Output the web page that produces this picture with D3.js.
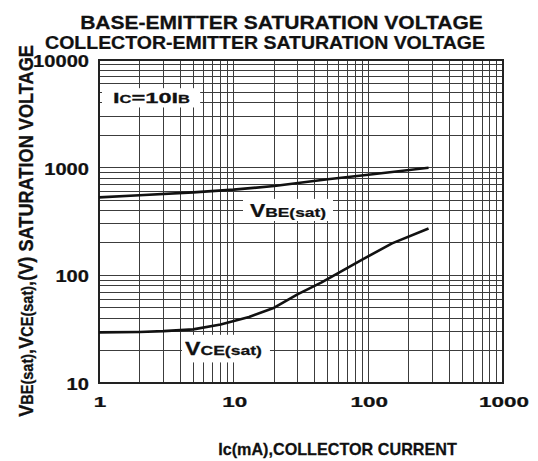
<!DOCTYPE html>
<html><head><meta charset="utf-8">
<script src="https://cdn.jsdelivr.net/npm/d3@7"></script>
<style>html,body{margin:0;padding:0;background:#fff;} svg{display:block;}</style>
</head><body>
<svg id="chart" width="538" height="461"></svg>
<script>
// ---- data ----
const titleLines = ["BASE-EMITTER SATURATION VOLTAGE", "COLLECTOR-EMITTER SATURATION VOLTAGE"];
const xTickLabels = [1, 10, 100, 1000];
const yTickLabels = [10, 100, 1000, 10000];
const xDomain = [1, 1000];
const yDomain = [10, 10000];
const vbeCurrent = [1, 2, 5, 10, 20, 50, 100, 280];
const vbeVoltage = [530, 555, 590, 625, 675, 780, 860, 1000];
const vceCurrent = [1, 2, 3, 5, 8, 13, 20, 30, 45, 90, 150, 280];
const vceVoltage = [29.5, 29.8, 30.3, 31.5, 35, 41, 50, 67, 86, 140, 198, 272];
const xAxisTitle = "Ic(mA),COLLECTOR CURRENT";

// ---- layout ----
const plot = {left: 99, right: 503, top: 60, bottom: 383};
const FONT = '"Liberation Sans", Arial, Helvetica, sans-serif';
const svg = d3.select("#chart");
const x = d3.scaleLog().domain(xDomain).range([plot.left, plot.right]);
const y = d3.scaleLog().domain(yDomain).range([plot.bottom, plot.top]);

// grid
const grid = svg.append("g").attr("stroke", "#3c3c3c").attr("stroke-width", 1)
  .attr("shape-rendering", "crispEdges");
grid.selectAll("line.v").data(x.ticks()).join("line").attr("class", "v")
  .attr("x1", d => x(d)).attr("x2", d => x(d)).attr("y1", plot.top).attr("y2", plot.bottom);
grid.selectAll("line.h").data(y.ticks()).join("line").attr("class", "h")
  .attr("y1", d => y(d)).attr("y2", d => y(d)).attr("x1", plot.left).attr("x2", plot.right);
svg.append("rect").attr("x", plot.left).attr("y", plot.top)
  .attr("width", plot.right - plot.left).attr("height", plot.bottom - plot.top)
  .attr("fill", "none").attr("stroke", "#222").attr("stroke-width", 1.2).attr("shape-rendering", "crispEdges");

// curves
const line = d3.line().x(d => x(d[0])).y(d => y(d[1]));
svg.append("path").datum(d3.zip(vbeCurrent, vbeVoltage)).attr("d", line)
  .attr("fill", "none").attr("stroke", "#111").attr("stroke-width", 2.6).attr("stroke-linejoin", "round");
svg.append("path").datum(d3.zip(vceCurrent, vceVoltage)).attr("d", line)
  .attr("fill", "none").attr("stroke", "#111").attr("stroke-width", 2.6).attr("stroke-linejoin", "round");

// ---- text helper ----
function addText(parts, o) {
  const t = svg.append("text").attr("font-family", FONT).attr("font-weight", "bold")
    .attr("fill", "#111").attr("stroke", "#111").attr("stroke-width", 0.25)
    .attr("text-anchor", o.anchor || "start");
  parts.forEach(p => t.append("tspan").attr("font-size", o.size * (p.s || 1)).text(p.t));
  const node = t.node();
  const natural = node.getComputedTextLength();
  const along = o.target ? o.target / natural : (o.sx || 1);
  if (o.rotate) {
    t.attr("transform", `translate(${o.x},${o.y}) scale(${o.perp || 1},${along}) rotate(-90)`);
  } else {
    t.attr("transform", `translate(${o.x},${o.y}) scale(${along},1)`);
  }
  if (o.box) {
    const bb = node.getBBox();
    const pad = o.box;
    svg.insert("rect", () => node)
      .attr("x", o.x + along * bb.x - pad[0])
      .attr("y", o.y + bb.y - pad[1])
      .attr("width", along * bb.width + pad[0] + pad[2])
      .attr("height", bb.height + pad[1] + pad[3])
      .attr("fill", "#fff");
  }
  return t;
}

// titles
addText([{t: titleLines[0]}], {x: 281.5, y: 28.5, anchor: "middle", size: 17.5, target: 403});
addText([{t: titleLines[1]}], {x: 265, y: 48.5, anchor: "middle", size: 17.5, target: 440});

// tick labels
yTickLabels.forEach(v => addText([{t: String(v)}], {x: 89, y: y(v) + 7, anchor: "end", size: 16.5, sx: 1.22}));
xTickLabels.forEach(v => addText([{t: String(v)}], {x: x(v) + 1, y: 407, anchor: "middle", size: 15.5, sx: 1.45}));

// axis titles
addText([{t: xAxisTitle}], {x: 337.5, y: 455, anchor: "middle", size: 16.5, target: 239});
addText([{t: "V"}, {t: "BE(sat)", s: 0.8}, {t: ",V"}, {t: "CE(sat)", s: 0.8}, {t: ",(V) SATURATION VOLTAGE"}],
  {x: 33, y: 231, anchor: "middle", size: 16, target: 372, rotate: true, perp: 1.3});

// in-plot labels
addText([{t: "I"}, {t: "C", s: 0.7}, {t: "=10I"}, {t: "B", s: 0.7}],
  {x: 113, y: 102.5, size: 14.5, target: 77, box: [11, 1, 10, 2]});
addText([{t: "V"}, {t: "BE(sat)", s: 0.76}],
  {x: 250, y: 216.5, size: 18, target: 76, box: [7, 1, 7, 1]});
addText([{t: "V"}, {t: "CE(sat)", s: 0.76}],
  {x: 185, y: 355, size: 17.5, target: 77, box: [3, 4, 8, 4]});
</script>
</body></html>
